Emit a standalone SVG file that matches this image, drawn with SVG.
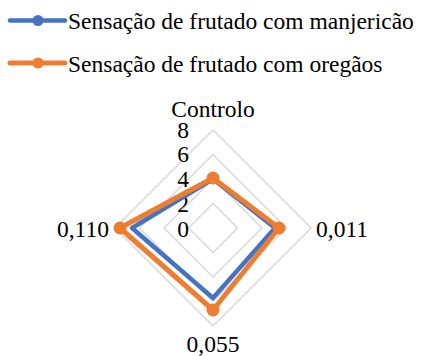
<svg xmlns="http://www.w3.org/2000/svg" width="422" height="356" viewBox="0 0 422 356">
<rect width="422" height="356" fill="#fff"/>
<g id="legend" font-family="Liberation Serif" font-size="23.5" fill="#000">
<g id="legend-blue">
<line x1="10" y1="20.5" x2="65" y2="20.5" stroke="#4472C4" stroke-width="4.5" stroke-linecap="round"/>
<circle cx="38" cy="20.5" r="5.5" fill="#4472C4"/>
<text x="68" y="29">Sensação de frutado com manjericão</text>
</g>
<g id="legend-orange">
<line x1="10" y1="63" x2="65" y2="63" stroke="#ED7D31" stroke-width="5" stroke-linecap="round"/>
<circle cx="38" cy="63" r="5.5" fill="#ED7D31"/>
<text x="68" y="72">Sensação de frutado com oregãos</text>
</g>
</g>
<g id="grid" fill="none" stroke="#d9d9d9" stroke-width="1.5">
<polygon points="213,203.5 237.5,228 213,252.5 188.5,228"/>
<polygon points="213,179 262,228 213,277 164,228"/>
<polygon points="213,154.5 286.5,228 213,301.5 139.5,228"/>
<polygon points="213,130 311,228 213,326 115,228"/>
</g>
<g id="ticks" text-anchor="middle" font-family="Liberation Serif" font-size="23.5" fill="#000">
<text x="183" y="237">0</text>
<text x="183" y="212">2</text>
<text x="183" y="187">4</text>
<text x="183" y="162">6</text>
<text x="183" y="138">8</text>
</g>
<g id="axis-labels" font-family="Liberation Serif" font-size="23.5" fill="#000">
<text x="213" y="117" text-anchor="middle">Controlo</text>
<text x="316" y="237">0,011</text>
<text x="213" y="352" text-anchor="middle">0,055</text>
<text x="109" y="237" text-anchor="end">0,110</text>
</g>
<g id="connectors" stroke-linejoin="round">
<polygon id="series-blue" points="213,179 275,228 213,298 132,228" fill="none" stroke="#4472C4" stroke-width="4.5"/>
<polygon id="series-orange" points="213,178 279,228 213,310 120,228" fill="none" stroke="#ED7D31" stroke-width="5"/>
<g id="markers-orange" fill="#ED7D31">
<circle cx="213" cy="178" r="6.5"/>
<circle cx="279" cy="228" r="6.5"/>
<circle cx="213" cy="310" r="6.5"/>
<circle cx="120" cy="228" r="6.5"/>
</g>
</g>
</svg>
